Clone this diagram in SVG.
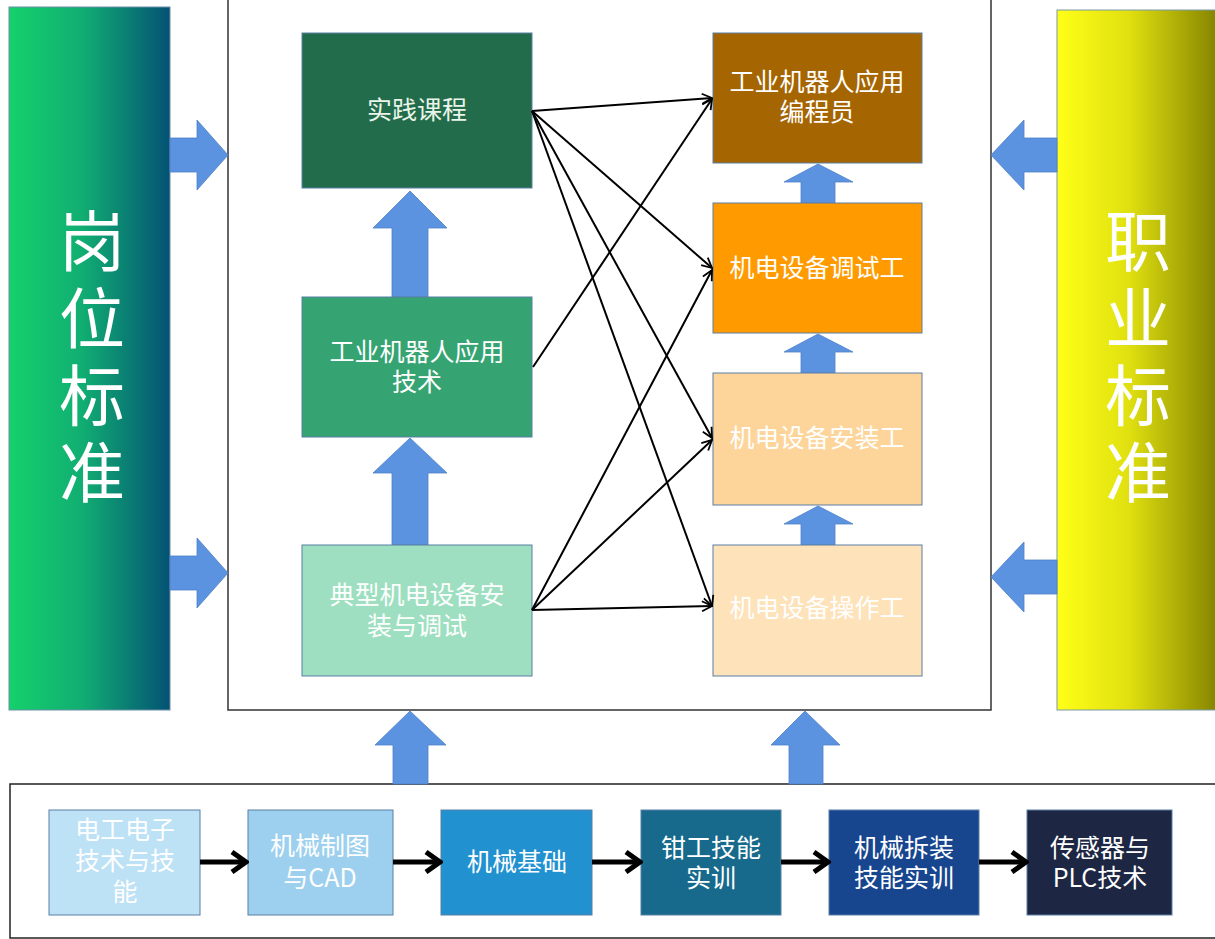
<svg xmlns="http://www.w3.org/2000/svg" width="1215" height="939" viewBox="0 0 1215 939">
<defs>
<linearGradient id="gLeft" x1="0" y1="0" x2="1" y2="0">
<stop offset="0" stop-color="#14D16B"/>
<stop offset="0.45" stop-color="#11AE72"/>
<stop offset="1" stop-color="#045274"/>
</linearGradient>
<linearGradient id="gRight" x1="0" y1="0" x2="1" y2="0">
<stop offset="0" stop-color="#FFFF18"/>
<stop offset="0.45" stop-color="#E0E010"/>
<stop offset="1" stop-color="#858500"/>
</linearGradient>
<marker id="open" viewBox="0 0 12 12" refX="11" refY="6" markerWidth="12" markerHeight="12" markerUnits="userSpaceOnUse" orient="auto">
<path d="M1,1 L11,6 L1,11" fill="none" stroke="#000" stroke-width="1.8"/>
</marker>
<marker id="thick" viewBox="0 0 20 24" refX="17" refY="12" markerWidth="20" markerHeight="24" markerUnits="userSpaceOnUse" orient="auto">
<path d="M3,2 L17,12 L3,22" fill="none" stroke="#000" stroke-width="5"/>
</marker>
</defs>
<style>
.t{font-family:"Noto Sans CJK SC","Microsoft YaHei",sans-serif;font-size:25px;fill:#FFFFFF;text-anchor:middle}
.big{font-family:"Noto Sans CJK SC",sans-serif;font-size:66px;fill:#FFFFFF;text-anchor:middle;writing-mode:vertical-rl;letter-spacing:11px}
.box{stroke:#5B7FA5;stroke-width:1}
.blue{fill:#5B93E0;stroke:#4F80C8;stroke-width:0.8}
.thin{stroke:#000;stroke-width:2;fill:none;marker-end:url(#open)}
.bold{stroke:#000;stroke-width:5;fill:none;marker-end:url(#thick)}
.frame{stroke:#333;stroke-width:1.5;fill:none}
</style>
<rect width="1215" height="939" fill="#FFFFFF"/>

<g id="frames">
<path class="frame" d="M228,0 V710 H991 V0"/>
<rect x="10" y="784" width="1215" height="154" fill="#FFFFFF" stroke="#222" stroke-width="1.5"/>
</g>

<g id="left-standard">
<rect x="9" y="7" width="161" height="703" fill="url(#gLeft)" stroke="#6A8FA8" stroke-width="1"/>
<text class="big" x="92" y="362">岗位标准</text>
</g>

<g id="right-standard">
<rect x="1057" y="10" width="160" height="700" fill="url(#gRight)" stroke="#7A9AAA" stroke-width="1"/>
<text class="big" x="1138" y="362">职业标准</text>
</g>

<g id="block-arrows">
<polygon class="blue" points="170,138 197,138 197,120 228,155 197,190 197,172 170,172"/>
<polygon class="blue" points="170,556 197,556 197,538 228,573 197,608 197,590 170,590"/>
<polygon class="blue" points="1057,138 1024,138 1024,120 991,155 1024,190 1024,172 1057,172"/>
<polygon class="blue" points="1057,560 1024,560 1024,542 991,577 1024,612 1024,594 1057,594"/>
<polygon class="blue" points="392,297 392,228 373,228 410,191 447,228 428,228 428,297"/>
<polygon class="blue" points="392,545 392,473 373,473 410,438 447,473 428,473 428,545"/>
<polygon class="blue" points="801,203 801,182 784,182 818,164 853,182 835,182 835,203"/>
<polygon class="blue" points="801,373 801,352 784,352 818,334 853,352 835,352 835,373"/>
<polygon class="blue" points="801,545 801,524 784,524 818,506 853,524 835,524 835,545"/>
<polygon class="blue" points="393,784 393,745 375,745 410,711 446,745 428,745 428,784"/>
<polygon class="blue" points="789,784 789,745 771,745 805,711 840,745 823,745 823,784"/>
</g>

<g id="n-shijian">
<rect class="box" x="302" y="33" width="230" height="155" fill="#236C4B"/>
<text class="t" x="417" y="119" style="fill:#EAF5EA">实践课程</text>
</g>
<g id="n-jishu">
<rect class="box" x="302" y="297" width="230" height="140" fill="#35A472"/>
<text class="t" x="417" y="361">工业机器人应用<tspan x="417" dy="30">技术</tspan></text>
</g>
<g id="n-dianxing">
<rect class="box" x="302" y="545" width="230" height="131" fill="#9DDFC0"/>
<text class="t" x="417" y="604">典型机电设备安<tspan x="417" dy="31">装与调试</tspan></text>
</g>

<g id="n-biancheng">
<rect class="box" x="713" y="33" width="209" height="130" fill="#A56500"/>
<text class="t" x="817" y="91">工业机器人应用<tspan x="817" dy="30">编程员</tspan></text>
</g>
<g id="n-tiaoshi">
<rect class="box" x="713" y="203" width="209" height="130" fill="#FF9A00"/>
<text class="t" x="817" y="277">机电设备调试工</text>
</g>
<g id="n-anzhuang">
<rect class="box" x="713" y="373" width="209" height="132" fill="#FDD59B"/>
<text class="t" x="817" y="447">机电设备安装工</text>
</g>
<g id="n-caozuo">
<rect class="box" x="713" y="545" width="209" height="131" fill="#FEE2BA"/>
<text class="t" x="817" y="617">机电设备操作工</text>
</g>

<g id="b1">
<rect class="box" x="49" y="810" width="151" height="105" fill="#BDE1F5"/>
<text class="t" x="125" y="839">电工电子<tspan x="125" dy="31">技术与技</tspan><tspan x="125" dy="31">能</tspan></text>
</g>
<g id="b2">
<rect class="box" x="248" y="810" width="145" height="105" fill="#9DD0EE"/>
<text class="t" x="320" y="855">机械制图<tspan x="320" dy="32">与CAD</tspan></text>
</g>
<g id="b3">
<rect class="box" x="441" y="810" width="151" height="105" fill="#2291D0"/>
<text class="t" x="517" y="871">机械基础</text>
</g>
<g id="b4">
<rect class="box" x="641" y="810" width="140" height="105" fill="#176A8C"/>
<text class="t" x="711" y="857">钳工技能<tspan x="711" dy="30">实训</tspan></text>
</g>
<g id="b5">
<rect class="box" x="829" y="810" width="150" height="105" fill="#17468F"/>
<text class="t" x="904" y="857">机械拆装<tspan x="904" dy="30">技能实训</tspan></text>
</g>
<g id="b6">
<rect class="box" x="1027" y="810" width="145" height="105" fill="#1D2744"/>
<text class="t" x="1100" y="857">传感器与<tspan x="1100" dy="30">PLC技术</tspan></text>
</g>

<g id="connectors">
<line class="thin" x1="532" y1="111" x2="712" y2="98"/>
<line class="thin" x1="532" y1="111" x2="712" y2="268"/>
<line class="thin" x1="532" y1="111" x2="712" y2="438"/>
<line class="thin" x1="532" y1="111" x2="712" y2="606"/>
<line class="thin" x1="533" y1="367" x2="712" y2="99"/>
<line class="thin" x1="532" y1="610" x2="712" y2="270"/>
<line class="thin" x1="532" y1="610" x2="712" y2="440"/>
<line class="thin" x1="532" y1="610" x2="712" y2="606"/>
<line class="bold" x1="200" y1="862" x2="246" y2="862"/>
<line class="bold" x1="393" y1="862" x2="440" y2="862"/>
<line class="bold" x1="592" y1="862" x2="640" y2="862"/>
<line class="bold" x1="781" y1="862" x2="828" y2="862"/>
<line class="bold" x1="979" y1="862" x2="1026" y2="862"/>
</g>
</svg>
